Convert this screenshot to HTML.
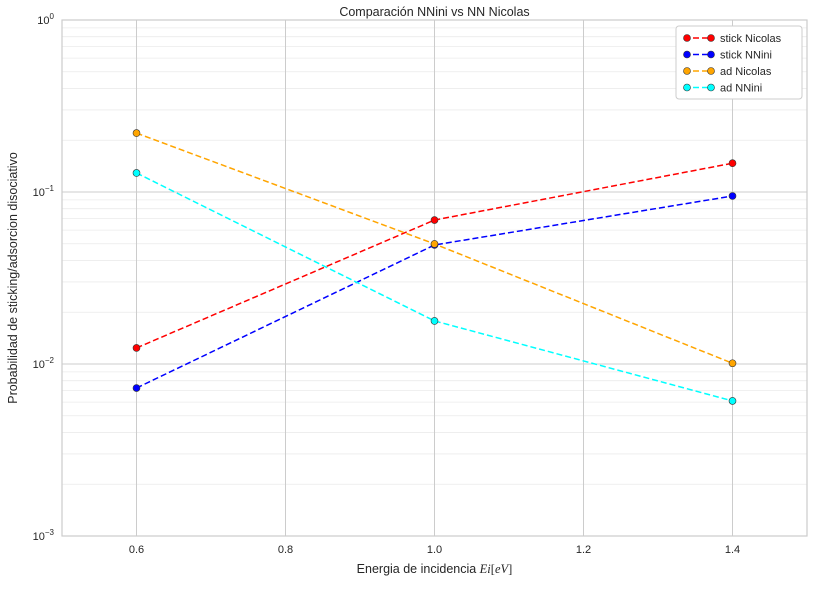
<!DOCTYPE html>
<html><head><meta charset="utf-8"><style>
body{margin:0;background:#fff;width:814px;height:586px;overflow:hidden}
text{font-family:"Liberation Sans",sans-serif;fill:#262626}
</style></head><body>
<svg id="chart" width="814" height="586"></svg>
<script>
const categories=[0.6,1.0,1.4];
const stickNicolas=[0.0124,0.0687,0.147];
const stickNNini=[0.00725,0.0492,0.0948];
const adNicolas=[0.220,0.0499,0.0101];
const adNNini=[0.129,0.0178,0.0061];
const xTicks=[0.6,0.8,1.0,1.2,1.4];
const xTickLabels=["0.6","0.8","1.0","1.2","1.4"];
const yExps=[-3,-2,-1,0];
const seriesNames=["stick Nicolas","stick NNini","ad Nicolas","ad NNini"];
const seriesColors=["red","blue","orange","cyan"];

const L=62,R=807,T=20,B=536;
const sx=v=>L+(v-0.5)/(1.5-0.5)*(R-L);
const sy=v=>B-(Math.log10(v)+3)/3*(B-T);
const svg=document.getElementById('chart');
const NS="http://www.w3.org/2000/svg";
function mk(tag,attrs,parent){const e=document.createElementNS(NS,tag);for(const k in attrs)e.setAttribute(k,attrs[k]);(parent||svg).appendChild(e);return e;}

// minor grid
for(let e=-3;e<0;e++){for(let m=2;m<10;m++){const y=sy(m*Math.pow(10,e));
const g=mk('line',{x1:L,x2:R,y1:y,y2:y,stroke:'#ebebeb','stroke-width':0.8});

}}
// major grid y
yExps.forEach(e=>{const y=sy(Math.pow(10,e));
const g=mk('line',{x1:L,x2:R,y1:y,y2:y,stroke:'#cccccc','stroke-width':1});


const t=mk('text',{x:L-8,y:y+4,'text-anchor':'end','font-size':11});


t.innerHTML='10<tspan dy="-5" font-size="8">'+(e<0?'\u2212'+(-e):e)+'</tspan>';});
xTicks.forEach((v,i)=>{const x=sx(v);
const g=mk('line',{x1:x,x2:x,y1:T,y2:B,stroke:'#cccccc','stroke-width':1});


const t=mk('text',{x:x,y:B+17,'text-anchor':'middle','font-size':11});


t.textContent=xTickLabels[i];});
const fr=mk('rect',{x:L,y:T,width:R-L,height:B-T,fill:'none',stroke:'#cccccc','stroke-width':1.2});



[stickNicolas,stickNNini,adNicolas,adNNini].forEach((vals,si)=>{
const pts=categories.map((c,i)=>sx(c)+','+sy(vals[i])).join(' ');
const pl=mk('polyline',{points:pts,fill:'none',stroke:seriesColors[si],'stroke-width':1.5,'stroke-dasharray':'6,3'});


categories.forEach((c,i)=>{const p=mk('circle',{cx:sx(c),cy:sy(vals[i]),r:3.5,fill:seriesColors[si],stroke:'#333','stroke-width':0.6});

});});

// legend
const lg=mk('g',{});


mk('rect',{x:676,y:26,width:126,height:73,fill:'#fff',stroke:'#cccccc',rx:3},lg);
seriesNames.forEach((n,i)=>{const y=38+i*16.5;
mk('line',{x1:684,x2:712,y1:y,y2:y,stroke:seriesColors[i],'stroke-width':1.5,'stroke-dasharray':'6,3'},lg);
mk('circle',{cx:687,cy:y,r:3.5,fill:seriesColors[i],stroke:'#333','stroke-width':0.6},lg);
mk('circle',{cx:711,cy:y,r:3.5,fill:seriesColors[i],stroke:'#333','stroke-width':0.6},lg);
const t=mk('text',{x:720,y:y+4,'font-size':11},lg);


t.textContent=n;});

const ti=mk('text',{x:(L+R)/2,y:16,'text-anchor':'middle','font-size':12.5});


ti.textContent='Comparación NNini vs NN Nicolas';
const xt=mk('text',{x:(L+R)/2,y:573,'text-anchor':'middle','font-size':12.5});


xt.innerHTML='Energia de incidencia <tspan font-family="Liberation Serif" font-style="italic">Ei</tspan><tspan font-family="Liberation Serif">[</tspan><tspan font-family="Liberation Serif" font-style="italic">eV</tspan><tspan font-family="Liberation Serif">]</tspan>';
const yt=mk('text',{x:17,y:(T+B)/2,'text-anchor':'middle','font-size':12.5,transform:'rotate(-90 17 '+(T+B)/2+')'});


yt.textContent='Probabilidad de sticking/adsorcion disociativo';
</script>
</body></html>
